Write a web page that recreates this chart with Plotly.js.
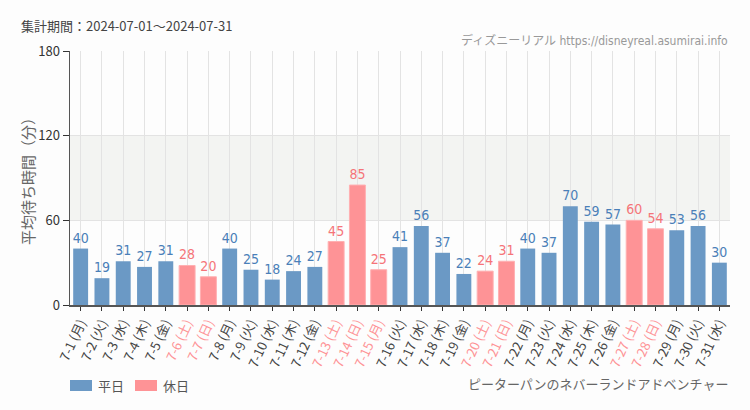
<!DOCTYPE html>
<html><head><meta charset="utf-8">
<script src="https://cdn.plot.ly/plotly-3.0.1.min.js"></script>
<style>body{margin:0;background:#fdfdfd}
text.bartext{font-stretch:condensed !important;}
</style>
</head><body><div id="c" style="width:750px;height:410px"></div>
<script>
const days = ["7-1","7-2","7-3","7-4","7-5","7-6","7-7","7-8","7-9","7-10","7-11","7-12","7-13","7-14","7-15","7-16","7-17","7-18","7-19","7-20","7-21","7-22","7-23","7-24","7-25","7-26","7-27","7-28","7-29","7-30","7-31"];
const weekdays = ["月","火","水","木","金","土","日","月","火","水","木","金","土","日","月","火","水","木","金","土","日","月","火","水","木","金","土","日","月","火","水"];
const waits = [40,19,31,27,31,28,20,40,25,18,24,27,45,85,25,41,56,37,22,24,31,40,37,70,59,57,60,54,53,56,30];
const isHoliday = [0,0,0,0,0,1,1,0,0,0,0,0,1,1,1,0,0,0,0,1,1,0,0,0,0,0,1,1,0,0,0];
const legendNames = ["平日","休日"];

const BLUE="#6b99c5", BLUE_T="#4a7fb8", PINK="#fe9396", PINK_T="#f57479";
const cats = days.map((d,i)=>d+" ("+weekdays[i]+")");
const tickText = cats.map((c,i)=> isHoliday[i] ? '<span style="color:'+PINK+'">'+c+'</span>' : c);
const wkY = waits.map((v,i)=> isHoliday[i]?null:v);
const hoY = waits.map((v,i)=> isHoliday[i]?v:null);
const lblFont = {family:"DejaVu Sans Condensed, DejaVu Sans, sans-serif", size:14};
const narrow = "DejaVu Sans Condensed, Noto Sans CJK JP, sans-serif";

const traces = [
 {type:"bar", name:legendNames[0], x:cats, y:wkY, marker:{color:BLUE}, width:0.7,
  text:wkY.map(v=>v==null?"":String(v)), textposition:"outside", cliponaxis:false, constraintext:"none",
  textfont:Object.assign({color:BLUE_T},lblFont), hoverinfo:"none"},
 {type:"bar", name:legendNames[1], x:cats, y:hoY, marker:{color:PINK, line:{color:"#ffb0b2",width:1}}, width:0.75,
  text:hoY.map(v=>v==null?"":String(v)), textposition:"outside", cliponaxis:false, constraintext:"none",
  textfont:Object.assign({color:PINK_T},lblFont), hoverinfo:"none"}
];
// paper coords: plot x 70..730 (660px), y 51..305 (254px)
const px = x => (x-70)/660, py = y => (305-y)/254;
const layout = {
 width:750, height:410, barmode:"overlay",
 paper_bgcolor:"#fdfdfd", plot_bgcolor:"#fdfdfd",
 margin:{l:70,r:20,t:51,b:105},
 font:{family:"Noto Sans CJK JP, sans-serif", color:"#444"},
 showlegend:false,
 xaxis:{type:"category", tickvals:cats, ticktext:tickText, tickangle:-65, tickfont:{size:13,color:"#444"}, automargin:false,
   showgrid:true, gridcolor:"#e3e3e3", showline:true, linecolor:"#555", linewidth:1.5, ticks:"outside", ticklen:4, tickcolor:"#333", range:[-0.5,30.5], fixedrange:true},
 yaxis:{range:[0,180], tickvals:[0,60,120,180], showgrid:true, gridcolor:"#e3e3e3", showline:true, linecolor:"#555", linewidth:1.5, automargin:false,
   ticks:"outside", ticklen:6, tickcolor:"#333", tickfont:{size:13,color:"#333"}, zeroline:false},
 shapes:[
  {type:"rect", xref:"paper", yref:"y", x0:0, x1:1, y0:60, y1:120, fillcolor:"#f3f4f2", line:{width:0}, layer:"below"},
  {type:"rect", xref:"paper", yref:"paper", x0:px(70), x1:px(92), y0:py(391), y1:py(380), fillcolor:BLUE, line:{width:0}},
  {type:"rect", xref:"paper", yref:"paper", x0:px(135), x1:px(157), y0:py(391), y1:py(380), fillcolor:PINK, line:{width:0}}
 ],
 annotations:[
  {xref:"paper", yref:"paper", x:px(27), y:0.5, textangle:-90, xanchor:"center", yanchor:"middle", showarrow:false, text:"平均待ち時間（分）", font:{size:15,color:"#666"}},
  {xref:"paper", yref:"paper", x:px(96), y:py(385.5), xanchor:"left", yanchor:"middle", showarrow:false, text:legendNames[0], font:{size:13,color:"#555"}},
  {xref:"paper", yref:"paper", x:px(161), y:py(385.5), xanchor:"left", yanchor:"middle", showarrow:false, text:legendNames[1], font:{size:13,color:"#555"}},
  {xref:"paper", yref:"paper", x:px(19), y:py(26), xanchor:"left", yanchor:"middle", showarrow:false, text:"集計期間：2024-07-01～2024-07-31", font:{size:13,color:"#444"}},
  {xref:"paper", yref:"paper", x:1, y:py(40), xanchor:"right", yanchor:"middle", showarrow:false, text:"ディズニーリアル https://disneyreal.asumirai.info", font:{size:12,color:"#999", family:narrow}},
  {xref:"paper", yref:"paper", x:1, y:py(385), xanchor:"right", yanchor:"middle", showarrow:false, text:"ピーターパンのネバーランドアドベンチャー", font:{size:13,color:"#666", family:narrow}}
 ]
};
Plotly.newPlot("c", traces, layout, {staticPlot:true, displayModeBar:false});
</script></body></html>
